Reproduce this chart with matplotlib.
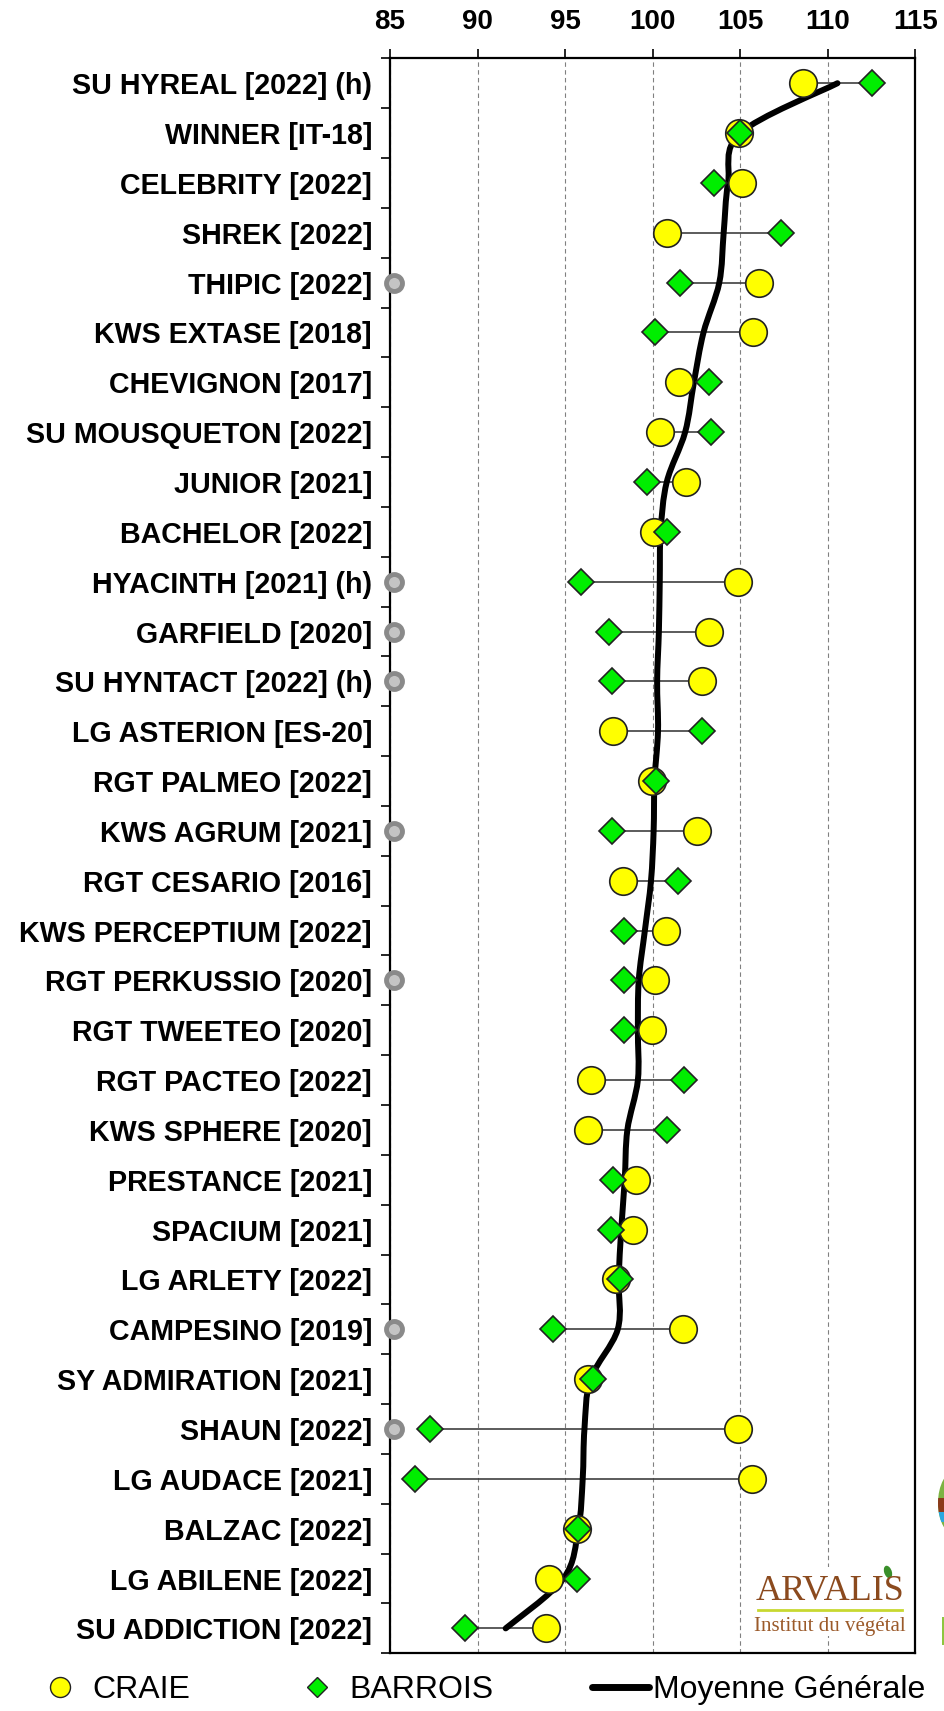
import numpy as np
import matplotlib
matplotlib.use("Agg")
import matplotlib.pyplot as plt
from matplotlib.lines import Line2D
from matplotlib.path import Path
from matplotlib.patches import PathPatch, Rectangle, Circle, Ellipse

plt.rcParams['font.family'] = ['Liberation Sans', 'DejaVu Sans']

# --- data ---
varietes = ["SU HYREAL [2022] (h)", "WINNER [IT-18]", "CELEBRITY [2022]", "SHREK [2022]",
            "THIPIC [2022]", "KWS EXTASE [2018]", "CHEVIGNON [2017]", "SU MOUSQUETON [2022]",
            "JUNIOR [2021]", "BACHELOR [2022]", "HYACINTH [2021] (h)", "GARFIELD [2020]",
            "SU HYNTACT [2022] (h)", "LG ASTERION [ES-20]", "RGT PALMEO [2022]", "KWS AGRUM [2021]",
            "RGT CESARIO [2016]", "KWS PERCEPTIUM [2022]", "RGT PERKUSSIO [2020]", "RGT TWEETEO [2020]",
            "RGT PACTEO [2022]", "KWS SPHERE [2020]", "PRESTANCE [2021]", "SPACIUM [2021]",
            "LG ARLETY [2022]", "CAMPESINO [2019]", "SY ADMIRATION [2021]", "SHAUN [2022]",
            "LG AUDACE [2021]", "BALZAC [2022]", "LG ABILENE [2022]", "SU ADDICTION [2022]"]

craie = [108.6, 104.9, 105.1, 100.8, 106.05, 105.7, 101.5, 100.4, 101.9, 100.05,
         104.85, 103.2, 102.8, 97.75, 99.95, 102.5, 98.3, 100.75, 100.1, 99.95,
         96.5, 96.3, 99.05, 98.85, 97.9, 101.7, 96.3, 104.85, 105.65, 95.7,
         94.1, 93.9]

barrois = [112.5, 105.0, 103.5, 107.3, 101.55, 100.15, 103.2, 103.3, 99.7, 100.8,
           95.9, 97.5, 97.7, 102.8, 100.2, 97.65, 101.45, 98.35, 98.35, 98.35,
           101.8, 100.8, 97.75, 97.6, 98.15, 94.3, 96.6, 87.3, 86.4, 95.75,
           95.7, 89.3]

moyenne = [110.55, 105.0, 104.3, 104.05, 103.8, 102.9, 102.35, 101.85, 100.8, 100.45,
           100.4, 100.35, 100.25, 100.3, 100.1, 100.05, 99.9, 99.55, 99.2, 99.15,
           99.15, 98.55, 98.4, 98.2, 98.05, 98.0, 96.45, 96.1, 96.0, 95.75,
           94.9, 91.6]

# varietes marquees d'un rond gris
marque_grise = [0, 0, 0, 0, 1, 0, 0, 0, 0, 0, 1, 1, 1, 0, 0, 1, 0, 0, 1, 0,
                0, 0, 0, 0, 0, 1, 0, 1, 0, 0, 0, 0]

xticks = [85, 90, 95, 100, 105, 110, 115]

# --- figure ---
W, H = 944, 1711
fig = plt.figure(figsize=(W / 100, H / 100), dpi=100)
ax = fig.add_axes([390.1 / W, 1 - 1653.3 / H, (915.4 - 390.1) / W, (1653.3 - 58.3) / H])

y = np.arange(len(varietes))

# traits entre les deux lieux
ax.hlines(y, np.minimum(craie, barrois), np.maximum(craie, barrois),
          color='#404040', lw=1.2, zorder=2)

# moyenne generale, trait lisse
pts = np.column_stack([moyenne, y]).astype(float)
n = len(pts)
verts = [pts[0]]
codes = [Path.MOVETO]
for i in range(n - 1):
    p0 = pts[i - 1] if i > 0 else pts[i]
    p1 = pts[i]
    p2 = pts[i + 1]
    p3 = pts[i + 2] if i + 2 < n else pts[i + 1]
    verts += [p1 + (p2 - p0) / 6, p2 - (p3 - p1) / 6, p2]
    codes += [Path.CURVE4] * 3
ax.add_patch(PathPatch(Path(verts, codes), fill=False, ec='black', lw=4.3,
                       capstyle='round', joinstyle='round', zorder=3))

ax.plot(craie, y, 'o', ms=19.8, mfc='#FFFF00', mec='#222222', mew=1.2, zorder=4)
ax.plot(barrois, y, 'D', ms=13.6, mfc='#00EE00', mec='#222222', mew=1.2, zorder=5)

# ronds gris a gauche
yg = [yy for yy, m in zip(y, marque_grise) if m]
ax.plot([85.21] * len(yg), yg, 'o', ms=11.5, mfc='#c4c4c4', mec='#8a8a8a', mew=3.5,
        clip_on=False, zorder=6)

# axes
ax.set_xlim(85, 115)
ax.set_ylim(len(varietes) - 0.5, -0.5)
ax.xaxis.tick_top()
ax.set_xticks(xticks)
ax.set_xticklabels([str(t) for t in xticks], fontsize=20, fontweight='bold')
ax.tick_params(axis='x', length=6.5, width=1.2, pad=10, color='black')
ax.set_yticks(y)
ax.set_yticklabels(varietes, fontsize=20.6, fontweight='bold')
ax.set_yticks(np.arange(-0.5, len(varietes)), minor=True)
ax.tick_params(axis='y', which='major', length=0, pad=13)
ax.tick_params(axis='y', which='minor', length=6.5, width=1.2)
ax.grid(axis='x', ls=(0, (4, 3)), color='#808080', lw=0.8, zorder=0)
for s in ax.spines.values():
    s.set_linewidth(1.6)

# legende
handles = [
    Line2D([], [], ls='none', marker='o', ms=14.4, mfc='#FFFF00', mec='#222222', mew=1.0, label='CRAIE'),
    Line2D([], [], ls='none', marker='D', ms=9.8, mfc='#00EE00', mec='#222222', mew=1.0, label='BARROIS'),
    Line2D([], [], color='black', lw=5, solid_capstyle='round', label='Moyenne Générale'),
]
fig.legend(handles=handles, ncol=3, loc='center left', bbox_to_anchor=(31.5 / W, 1 - 1690 / H),
           frameon=False, fontsize=23, handlelength=1.79, handletextpad=0.125,
           columnspacing=3.07, borderpad=0, borderaxespad=0)

# logo ARVALIS
fig.patches.append(Rectangle((758 / W, 1 - 1636 / H), 147 / W, 69 / H, transform=fig.transFigure,
                             fc='white', ec='none', zorder=2))
fig.text(830 / W, 1 - 1592 / H, 'ARVALIS', ha='center', va='center', fontsize=26,
         family='Liberation Serif', color='#8B4A1E', zorder=3)
fig.lines.append(Line2D([758 / W, 902 / W], [1 - 1610 / H] * 2, transform=fig.transFigure,
                        color='#c8d830', lw=2, zorder=3))
fig.patches.append(Ellipse((888 / W, 1 - 1572 / H), 9 / W, 11 / H, angle=-30,
                           transform=fig.transFigure, fc='#3a8f2a', ec='none', zorder=3))
fig.text(830 / W, 1 - 1626 / H, 'Institut du végétal', ha='center', va='center', fontsize=15,
         family='Liberation Serif', color='#9B5A2A', zorder=3)

# logo coupe au bord droit
rond = Circle((956 / W, 1 - 1503 / H), 18 / W, transform=fig.transFigure, fc='#7cb342', ec='none')
fig.patches.append(rond)
for y0, y1, c in [(1498, 1512, '#8b3a1a'), (1512, 1522, '#29a8e0')]:
    r = Rectangle((930 / W, 1 - y1 / H), 40 / W, (y1 - y0) / H, transform=fig.transFigure,
                  fc=c, ec='none')
    r.set_clip_path(rond)
    fig.patches.append(r)
fig.patches.append(Rectangle((942 / W, 1 - 1645 / H), 2 / W, 28 / H, transform=fig.transFigure,
                             fc='#8dc63f', ec='none'))

fig.savefig('out.png', dpi=100)
